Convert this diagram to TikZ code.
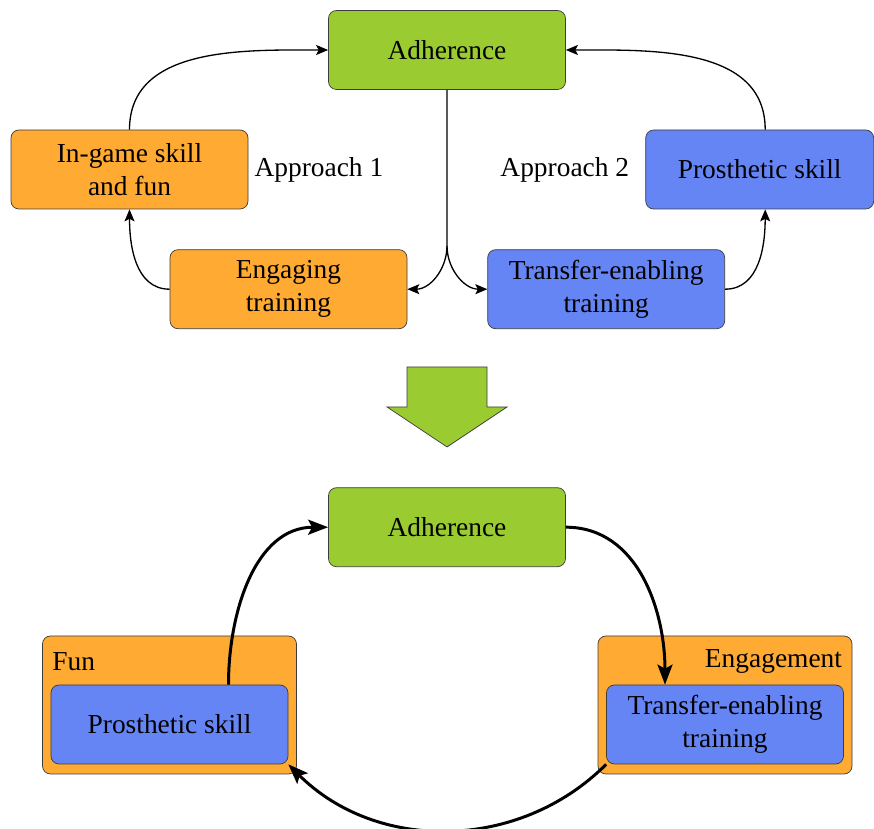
\documentclass[tikz,border=0pt]{standalone}
\usepackage{fontspec}
\setmainfont{Liberation Serif}
\usetikzlibrary{positioning, arrows.meta}
\definecolor{adhgreen}{RGB}{154,204,50}
\definecolor{funorange}{RGB}{255,170,51}
\definecolor{skillblue}{RGB}{102,133,245}
\definecolor{edgegray}{RGB}{60,60,60}
\tikzstyle{adh} = [rectangle, rounded corners=0.16cm, minimum width=4.74cm, minimum height=1.58cm, text centered, draw=edgegray, fill=adhgreen]
\tikzstyle{orangebox} = [rectangle, rounded corners=0.16cm, minimum width=4.74cm, minimum height=1.58cm, align=center, draw=edgegray, fill=funorange]
\tikzstyle{bluebox} = [rectangle, rounded corners=0.16cm, minimum width=4.74cm, minimum height=1.58cm, align=center, draw=edgegray, fill=skillblue]
\tikzstyle{outerbox} = [rectangle, rounded corners=0.16cm, minimum width=5.08cm, minimum height=2.76cm, draw=edgegray, fill=funorange]
\tikzstyle{boxtag} = [inner sep=0pt]
\tikzstyle{arrow} = [-{Stealth[length=0.24cm, width=0.2cm, inset=0.05cm]}, line width=0.75pt]
\tikzstyle{thickarrow} = [-{Stealth[length=0.4cm, width=0.3cm, inset=0.08cm]}, line width=1.7pt]

\begin{document}
\begin{tikzpicture}[every node/.style={font=\fontsize{15.6pt}{18.8pt}\selectfont}]
	\useasboundingbox (0,0) rectangle (17.48,-16.58);

	% top half: the two approaches
	\node (adh1) [adh] at (8.94,-1.0) {Adherence};
	\node (engtr) [orangebox, below=3.19cm of adh1, xshift=-3.17cm] {Engaging\\training};
	\node (trtr) [bluebox, right=1.6cm of engtr] {Transfer-enabling\\training};
	\node (game) [orangebox, above=0.8cm of engtr, xshift=-3.18cm] {In-game skill\\and fun};
	\node (prost1) [bluebox, minimum width=4.56cm, above=0.8cm of trtr, xshift=3.07cm] {Prosthetic skill};
	\node (app1) [right=0cm of game] {Approach 1};
	\node (app2) [left=0.2cm of prost1] {Approach 2};

	\coordinate (split) at ([yshift=-3.12cm]adh1.south);
	\draw [arrow](adh1.south) -- (split) to[out=-90, in=0] (engtr.east);
	\draw [arrow](split) to[out=-90, in=180] (trtr.west);
	\draw [arrow](engtr.west) to[out=180, in=-90] (game.south);
	\draw [arrow](game.north) to[out=90, in=180] (adh1.west);
	\draw [arrow](trtr.east) to[out=0, in=-90] ([xshift=0.11cm]prost1.south);
	\draw [arrow]([xshift=0.11cm]prost1.north) to[out=90, in=0] (adh1.east);

	% big green arrow
	\draw [draw=edgegray, fill=adhgreen] (8.14,-7.34) -- (9.74,-7.34) -- (9.74,-8.14) -- (10.14,-8.14)
		-- (8.94,-8.94) -- (7.74,-8.14) -- (8.14,-8.14) -- cycle;

	% bottom half: combined loop
	\node (adh2) [adh, below=7.95cm of adh1] {Adherence};
	\node (fun) [outerbox] at (3.39,-14.1) {};
	\node (eng) [outerbox] at (14.5,-14.1) {};
	\node (prost2) [bluebox, anchor=south] at ([yshift=0.2cm]fun.south) {Prosthetic skill};
	\node (trtr2) [bluebox, anchor=south] at ([yshift=0.2cm]eng.south) {Transfer-enabling\\training};
	\node (funtag) [boxtag, anchor=base west] at ([xshift=0.2cm, yshift=-0.7cm]fun.north west) {Fun};
	\node (engtag) [boxtag, anchor=base east] at ([xshift=-0.2cm, yshift=-0.64cm]eng.north east) {Engagement};

	\draw [thickarrow]([xshift=1.18cm]prost2.north) to[out=90, in=180] (adh2.west);
	\draw [thickarrow](adh2.east) to[out=0, in=90] ([xshift=-1.2cm]trtr2.north);
	\draw [thickarrow](trtr2.south west) to[out=-135, in=-45] (prost2.south east);
\end{tikzpicture}
\end{document}
